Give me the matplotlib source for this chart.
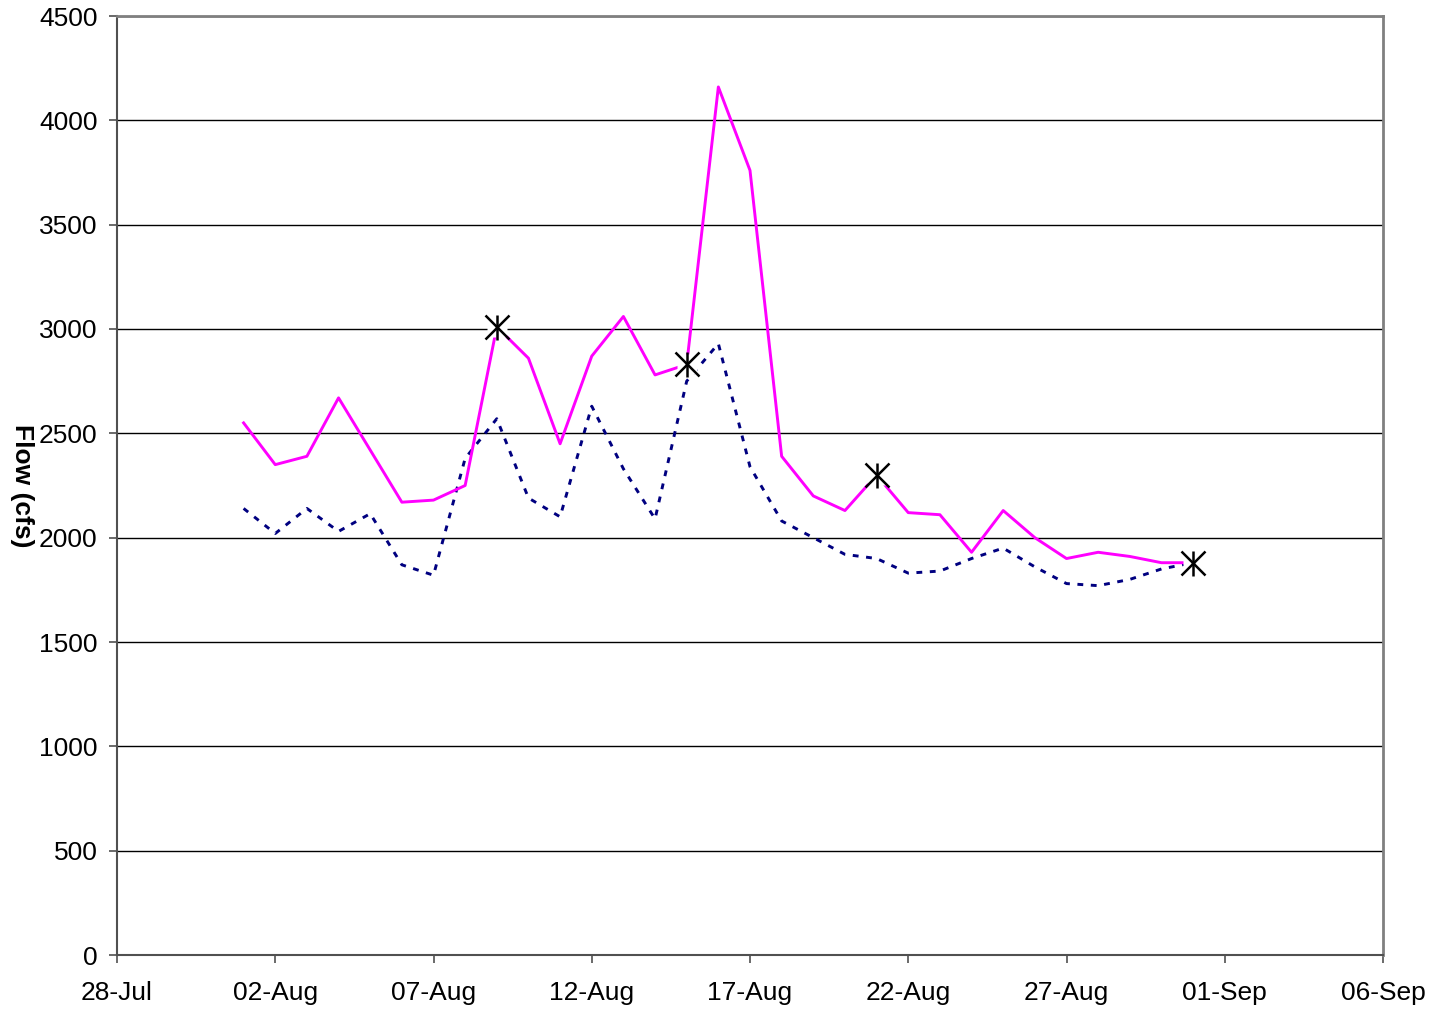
"""
Daily flow, August - two series with asterisk markers
"""

import numpy as np
import pandas as pd
import matplotlib
matplotlib.use('Agg')
import matplotlib.pyplot as plt
import matplotlib.dates as mdates

plt.rcParams['font.family'] = ['Liberation Sans', 'DejaVu Sans']

# daily values, 01-Aug .. 31-Aug
dates = pd.date_range('2004-08-01', '2004-08-31', freq='D')
flow_upper = [2550, 2350, 2390, 2670, 2420, 2170, 2180, 2250, 3010, 2860,
              2450, 2870, 3060, 2780, 2830, 4160, 3760, 2390, 2200, 2130,
              2300, 2120, 2110, 1930, 2130, 2000, 1900, 1930, 1910, 1880,
              1880]
flow_lower = [2140, 2020, 2140, 2030, 2115, 1870, 1820, 2380, 2570, 2190,
              2100, 2630, 2330, 2090, 2750, 2930, 2340, 2080, 2000, 1920,
              1900, 1830, 1840, 1900, 1950, 1860, 1780, 1770, 1800, 1850,
              1880]

# asterisk points
mark_dates = pd.to_datetime(['2004-08-09', '2004-08-15', '2004-08-21', '2004-08-31'])
mark_vals = [3010, 2830, 2300, 1880]

xmin = pd.Timestamp('2004-07-28')
xmax = pd.Timestamp('2004-09-06')
yticks = np.arange(0, 4501, 500)

fig = plt.figure(figsize=(14.32, 10.13), dpi=100)
ax = fig.add_axes([117 / 1432, 1 - 955 / 1013, (1383 - 117) / 1432, (955 - 16) / 1013])

ax.plot(dates, flow_lower, color='#000080', lw=2.1, linestyle=(0, (2.0, 2.6)), zorder=3)
ax.plot(dates, flow_upper, color='#FF00FF', lw=2.1, zorder=4)

# white patch behind each asterisk, then the asterisk (X plus vertical bar)
ax.plot(mark_dates, mark_vals, linestyle='none', marker='s', markersize=15,
        markerfacecolor='white', markeredgecolor='none', zorder=5)
ax.plot(mark_dates, mark_vals, linestyle='none', marker='x', markersize=17,
        markeredgecolor='black', markeredgewidth=1.8, zorder=6)
ax.plot(mark_dates, mark_vals, linestyle='none', marker='|', markersize=18,
        markeredgecolor='black', markeredgewidth=1.8, zorder=6)

ax.set_xlim(xmin, xmax)
ax.set_ylim(0, 4500)
ax.set_yticks(yticks)
ax.set_xticks(pd.date_range(xmin, xmax, freq='5D'))
ax.xaxis.set_major_formatter(mdates.DateFormatter('%d-%b'))

ax.yaxis.grid(True, color='black', lw=1.0)
ax.set_axisbelow(True)

for side in ['top', 'right']:
    ax.spines[side].set_color('#808080')
    ax.spines[side].set_linewidth(2.0)
for side in ['left', 'bottom']:
    ax.spines[side].set_color('#505050')
    ax.spines[side].set_linewidth(1.5)

ax.tick_params(axis='both', direction='out', length=6, width=1.2, color='#505050',
               labelsize=19, labelcolor='black')
ax.tick_params(axis='x', pad=13)
ax.tick_params(axis='y', pad=8)

fig.text(22 / 1432, 1 - 486 / 1013, 'Flow (cfs)', fontsize=19, fontweight='bold',
         rotation=270, ha='center', va='center')

plt.savefig('out.png', dpi=100)
plt.close()
